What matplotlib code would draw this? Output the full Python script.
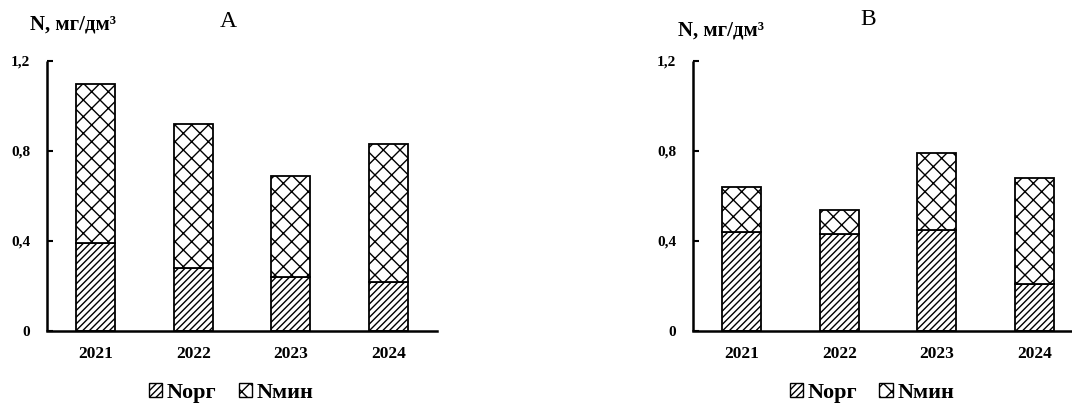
import matplotlib.pyplot as plt
from matplotlib.patches import Patch
import numpy as np

plt.rcParams['font.family'] = ['Liberation Serif', 'DejaVu Serif']
plt.rcParams['hatch.linewidth'] = 1.0

years = ['2021', '2022', '2023', '2024']

# panel A
norg_a = [0.39, 0.28, 0.24, 0.22]
total_a = [1.10, 0.92, 0.69, 0.83]
# panel B
norg_b = [0.44, 0.43, 0.45, 0.21]
total_b = [0.64, 0.54, 0.79, 0.68]

yticks = [0, 0.4, 0.8, 1.2]
ytick_labels = ['0', '0,4', '0,8', '1,2']

fig = plt.figure(figsize=(10.72, 4.07), dpi=100)


def draw_panel(ax, norg, total):
    x = np.arange(len(years))
    nmin = np.array(total) - np.array(norg)
    ax.bar(x, norg, width=0.4, color='white', edgecolor='black',
           hatch='/////', linewidth=1.3)
    ax.bar(x, nmin, bottom=norg, width=0.4, color='white', edgecolor='black',
           hatch='xx', linewidth=1.3)
    ax.set_xlim(-0.5, 3.5)
    ax.set_ylim(0, 1.2)
    ax.set_xticks(x)
    ax.set_xticklabels(years, fontsize=12.5, fontweight='bold')
    ax.set_yticks(yticks)
    ax.set_yticklabels(ytick_labels, fontsize=11, fontweight='bold')
    ax.tick_params(axis='y', direction='in', length=4, width=1.5, pad=12)
    ax.tick_params(axis='x', length=0, pad=11)
    for s in ['top', 'right']:
        ax.spines[s].set_visible(False)
    for s in ['left', 'bottom']:
        ax.spines[s].set_linewidth(1.8)
    ax.spines['left'].set_capstyle('butt')


ax1 = fig.add_axes([0.0438, 0.1867, 0.3638, 0.6634])
draw_panel(ax1, norg_a, total_a)
ax2 = fig.add_axes([0.6465, 0.1867, 0.3638, 0.6634])
draw_panel(ax2, norg_b, total_b)

fig.text(0.028, 0.941, 'N, мг/дм³', fontsize=15, fontweight='bold', va='center')
fig.text(0.2127, 0.946, 'A', fontsize=17, ha='center', va='center')
fig.text(0.6325, 0.926, 'N, мг/дм³', fontsize=15, fontweight='bold', va='center')
fig.text(0.810, 0.951, 'B', fontsize=17, ha='center', va='center')

handles = [Patch(facecolor='white', edgecolor='black', hatch='/////', label='Nорг'),
           Patch(facecolor='white', edgecolor='black', hatch='xx', label='Nмин')]
for cx in [0.2155, 0.8134]:
    fig.legend(handles=handles, loc='center', bbox_to_anchor=(cx, 0.034), ncol=2,
               frameon=False, handlelength=0.6, handleheight=0.6, handletextpad=0.2,
               columnspacing=1.0, prop={'size': 16, 'weight': 'bold'})

fig.savefig('out.png', dpi=100)
